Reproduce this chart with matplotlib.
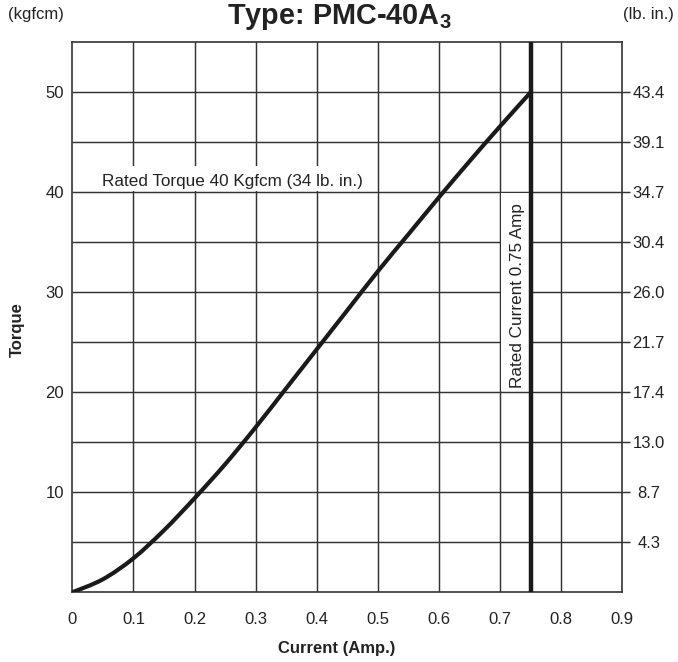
import matplotlib
matplotlib.use("Agg")
import matplotlib.pyplot as plt
from matplotlib.patches import Rectangle, PathPatch
from matplotlib.path import Path

plt.rcParams['font.family'] = ['Liberation Sans', 'DejaVu Sans']
plt.rcParams['mathtext.fontset'] = 'custom'
plt.rcParams['mathtext.rm'] = 'Liberation Sans'
plt.rcParams['mathtext.bf'] = 'Liberation Sans:bold'

# ---- data ----
current = [0, 0.05, 0.1, 0.15, 0.2, 0.25, 0.3, 0.35, 0.4, 0.45, 0.5, 0.55, 0.6, 0.65, 0.7, 0.75]
torque = [0, 1.3, 3.4, 6.2, 9.4, 12.8, 16.5, 20.4, 24.3, 28.2, 32.1, 35.8, 39.5, 43.1, 46.6, 50.0]
rated_current = 0.75
x_ticks = [0, 0.1, 0.2, 0.3, 0.4, 0.5, 0.6, 0.7, 0.8, 0.9]
x_labels = ['0', '0.1', '0.2', '0.3', '0.4', '0.5', '0.6', '0.7', '0.8', '0.9']
left_ticks = [10, 20, 30, 40, 50]
left_labels = ['10', '20', '30', '40', '50']
right_ticks = [5, 10, 15, 20, 25, 30, 35, 40, 45, 50]
right_labels = ['4.3', '8.7', '13.0', '17.4', '21.7', '26.0', '30.4', '34.7', '39.1', '43.4']
grid_y = [5, 10, 15, 20, 25, 30, 35, 40, 45, 50]
grid_x = [0.1, 0.2, 0.3, 0.4, 0.5, 0.6, 0.7, 0.8]


def smooth_path(xs, ys):
    """Catmull-Rom curve through the points, expressed as cubic Bezier segments."""
    pts = list(zip(xs, ys))
    verts = [pts[0]]
    codes = [Path.MOVETO]
    n = len(pts)
    for i in range(n - 1):
        p0 = pts[i - 1] if i > 0 else pts[i]
        p1 = pts[i]
        p2 = pts[i + 1]
        p3 = pts[i + 2] if i + 2 < n else pts[i + 1]
        c1 = (p1[0] + (p2[0] - p0[0]) / 6, p1[1] + (p2[1] - p0[1]) / 6)
        c2 = (p2[0] - (p3[0] - p1[0]) / 6, p2[1] - (p3[1] - p1[1]) / 6)
        verts += [c1, c2, p2]
        codes += [Path.CURVE4] * 3
    return Path(verts, codes)


W, H = 678, 662
fig = plt.figure(figsize=(W / 100, H / 100), dpi=100)
ax = fig.add_axes([72.3 / W, 1 - 592.3 / H, (622.3 - 72.3) / W, (592.3 - 42.3) / H])
ax.set_xlim(0, 0.9)
ax.set_ylim(0, 55)

gc = '#333333'
glw = 1.05
for gy in grid_y:
    ax.plot([0, 0.912], [gy, gy], color=gc, lw=glw, zorder=1, clip_on=False,
            solid_capstyle='butt')
for gx in grid_x:
    ax.axvline(gx, color=gc, lw=glw, zorder=1)

for s in ax.spines.values():
    s.set_color(gc)
    s.set_linewidth(1.2)

# white boxes behind annotations
ax.add_patch(Rectangle((0.004, 40.1), 0.481, 2.5, facecolor='white', edgecolor='none', zorder=2))
ax.add_patch(Rectangle((0.702, 20.1), 0.046, 19.8, facecolor='white', edgecolor='none', zorder=2))

ax.add_patch(PathPatch(smooth_path(current, torque), facecolor='none', edgecolor='#1a1a1a',
                       lw=3.0, zorder=4, capstyle='round'))
ax.axvline(rated_current, color='#1a1a1a', lw=3.2, zorder=4)

tc = '#222222'
ax.text(0.0486, 40.6, 'Rated Torque 40 Kgfcm (34 lb. in.)', fontsize=12.3, color=tc,
        ha='left', va='baseline', zorder=5)
ax.text(0.7277, 29.7, 'Rated Current 0.75 Amp', fontsize=12.3, color=tc, rotation=90,
        ha='center', va='center', zorder=5)

ax.set_xticks(x_ticks)
ax.set_xticklabels(x_labels)
ax.set_yticks(left_ticks)
ax.set_yticklabels(left_labels)
ax.tick_params(axis='x', length=0, pad=14, labelsize=12, labelcolor=tc)
ax.tick_params(axis='y', length=0, pad=6, labelsize=12, labelcolor=tc)

ax2 = ax.twinx()
ax2.set_ylim(0, 55)
ax2.set_yticks(right_ticks)
ax2.set_yticklabels(right_labels)
ax2.tick_params(axis='y', length=0, pad=19, labelsize=12, labelcolor=tc)
for lab in ax2.get_yticklabels():
    lab.set_horizontalalignment('center')
for s in ax2.spines.values():
    s.set_visible(False)

fig.text(17.5 / W, 1 - 330 / H, 'Torque', rotation=90, fontsize=12, fontweight='bold',
         color=tc, ha='center', va='center')
fig.text(337 / W, 1 - 648 / H, 'Current (Amp.)', fontsize=12, fontweight='bold',
         color=tc, ha='center', va='center')
fig.text(339 / W, 1 - 2 / H, r'Type: PMC-40A$_{\mathbf{3}}$', fontsize=20.8, fontweight='bold',
         color=tc, ha='center', va='top')
fig.text(8 / W, 1 - 15 / H, '(kgfcm)', fontsize=12, color=tc, ha='left', va='center')
fig.text(674 / W, 1 - 15 / H, '(lb. in.)', fontsize=12, color=tc, ha='right', va='center')

fig.savefig('out.png', dpi=100)
